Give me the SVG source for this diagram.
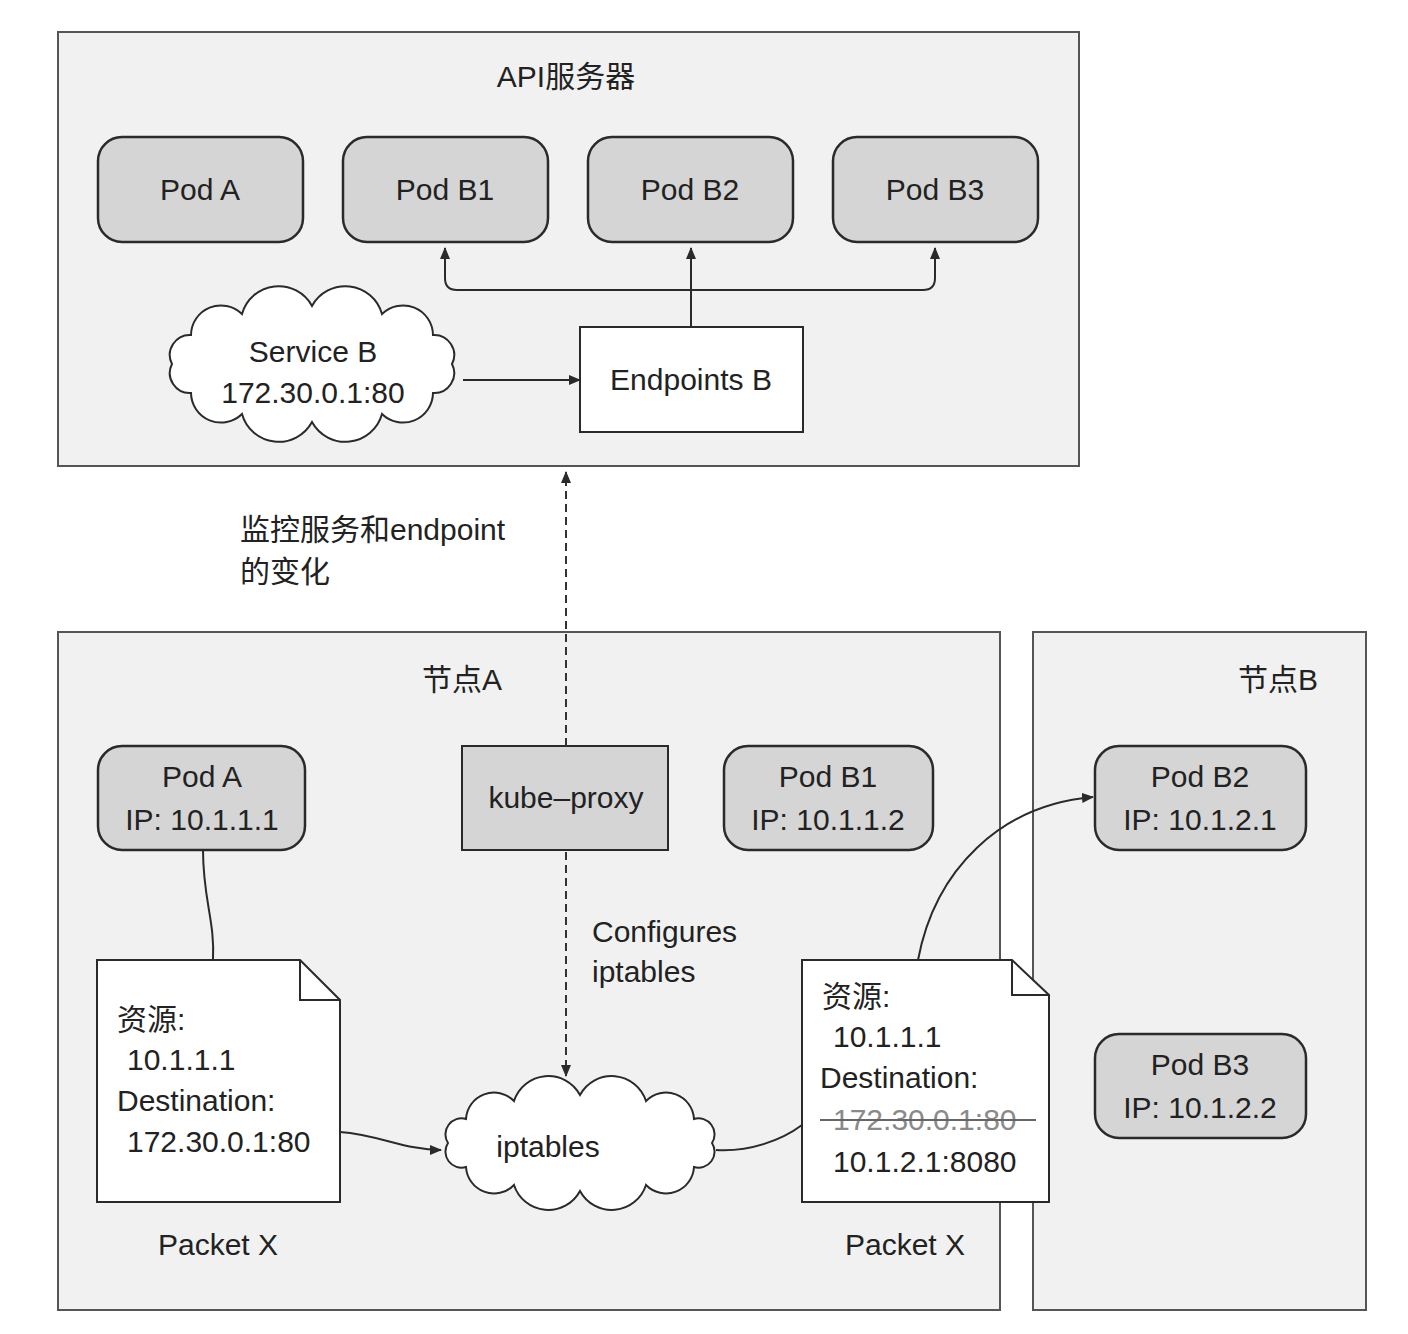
<svg xmlns="http://www.w3.org/2000/svg" width="1408" height="1334" viewBox="0 0 1408 1334">
<defs>
<style>
text{font-family:"Liberation Sans","Noto Sans CJK SC",sans-serif;font-size:30px;fill:#222}
.c{text-anchor:middle}
.box{fill:#f1f1f1;stroke:#555;stroke-width:2}
.pod{fill:#d5d5d5;stroke:#2a2a2a;stroke-width:2.5}
.white{fill:#fff;stroke:#2a2a2a;stroke-width:2}
.line{fill:none;stroke:#2a2a2a;stroke-width:2}
.dash{fill:none;stroke:#333;stroke-width:2;stroke-dasharray:8 5}
.strike{fill:#8a8a8a}
</style>
<marker id="arr" viewBox="0 0 12 10" refX="11" refY="5" markerWidth="12" markerHeight="10" markerUnits="userSpaceOnUse" orient="auto-start-reverse">
<path d="M0,0 L12,5 L0,10 Z" fill="#2a2a2a"/>
</marker>
</defs>
<rect width="1408" height="1334" fill="#fff"/>

<g id="api-server">
<rect class="box" x="58" y="32" width="1021" height="434"/>
<text class="c" x="566" y="87">API服务器</text>
</g>
<g id="api-pod-a"><rect class="pod" x="98" y="137" width="205" height="105" rx="24"/><text class="c" x="200" y="200">Pod A</text></g>
<g id="api-pod-b1"><rect class="pod" x="343" y="137" width="205" height="105" rx="24"/><text class="c" x="445" y="200">Pod B1</text></g>
<g id="api-pod-b2"><rect class="pod" x="588" y="137" width="205" height="105" rx="24"/><text class="c" x="690" y="200">Pod B2</text></g>
<g id="api-pod-b3"><rect class="pod" x="833" y="137" width="205" height="105" rx="24"/><text class="c" x="935" y="200">Pod B3</text></g>
<g id="endpoints-b"><rect class="white" x="580" y="327" width="223" height="105"/><text class="c" x="691" y="390">Endpoints B</text></g>
<g id="service-b">
<path class="white" d="M452,364 A20,20 0 0 1 433,393 A30,30 0 0 1 382,414 A38,38 0 0 1 312,422 A38,38 0 0 1 242,414 A30,30 0 0 1 191,393 A20,20 0 0 1 172,364 A20,20 0 0 1 191,335 A30,30 0 0 1 242,314 A38,38 0 0 1 312,306 A38,38 0 0 1 382,314 A30,30 0 0 1 433,335 A20,20 0 0 1 452,364 Z"/>
<text class="c" x="313" y="362">Service B</text>
<text class="c" x="313" y="403">172.30.0.1:80</text>
</g>

<g id="node-a">
<rect class="box" x="58" y="632" width="942" height="678"/>
<text class="c" x="462" y="690">节点A</text>
</g>
<g id="node-b">
<rect class="box" x="1033" y="632" width="333" height="678"/>
<text class="c" x="1278" y="690">节点B</text>
</g>
<g id="node-pod-a"><rect class="pod" x="98" y="746" width="207" height="104" rx="24"/><text class="c" x="202" y="787">Pod A</text><text class="c" x="202" y="830">IP: 10.1.1.1</text></g>
<g id="kube-proxy"><rect class="pod" x="462" y="746" width="206" height="104" style="stroke-width:2"/><text class="c" x="566" y="808">kube–proxy</text></g>
<g id="node-pod-b1"><rect class="pod" x="724" y="746" width="209" height="104" rx="24"/><text class="c" x="828" y="787">Pod B1</text><text class="c" x="828" y="830">IP: 10.1.1.2</text></g>
<g id="node-pod-b2"><rect class="pod" x="1095" y="746" width="211" height="104" rx="24"/><text class="c" x="1200" y="787">Pod B2</text><text class="c" x="1200" y="830">IP: 10.1.2.1</text></g>
<g id="node-pod-b3"><rect class="pod" x="1095" y="1034" width="211" height="104" rx="24"/><text class="c" x="1200" y="1075">Pod B3</text><text class="c" x="1200" y="1118">IP: 10.1.2.2</text></g>

<g id="packet-left">
<path class="white" d="M97,960 L300,960 L340,1000 L340,1202 L97,1202 Z"/>
<path class="line" d="M300,960 L300,1000 L340,1000"/>
<text x="117" y="1030">资源:</text>
<text x="127" y="1070">10.1.1.1</text>
<text x="117" y="1111">Destination:</text>
<text x="127" y="1152">172.30.0.1:80</text>
<text class="c" x="218" y="1255">Packet X</text>
</g>
<g id="iptables">
<path class="white" d="M712,1143 A16,16 0 0 1 694,1167 A28,28 0 0 1 646,1185 A36,36 0 0 1 580,1191 A36,36 0 0 1 514,1185 A28,28 0 0 1 466,1167 A16,16 0 0 1 448,1143 A16,16 0 0 1 466,1119 A28,28 0 0 1 514,1101 A36,36 0 0 1 580,1095 A36,36 0 0 1 646,1101 A28,28 0 0 1 694,1119 A16,16 0 0 1 712,1143 Z"/>
<text class="c" x="548" y="1157">iptables</text>
</g>
<g id="packet-right">
<path class="white" d="M802,960 L1012,960 L1049,995 L1049,1202 L802,1202 Z"/>
<path class="line" d="M1012,960 L1012,995 L1049,995"/>
<text x="822" y="1007">资源:</text>
<text x="833" y="1047">10.1.1.1</text>
<text x="820" y="1088">Destination:</text>
<text class="strike" x="833" y="1130">172.30.0.1:80</text>
<line x1="820" y1="1120" x2="1036" y2="1120" stroke="#666" stroke-width="2"/>
<text x="833" y="1172">10.1.2.1:8080</text>
<text class="c" x="905" y="1255">Packet X</text>
</g>

<g id="labels">
<text x="240" y="540">监控服务和endpoint</text>
<text x="240" y="582">的变化</text>
<text x="592" y="942">Configures</text>
<text x="592" y="982">iptables</text>
</g>

<g id="connectors">
<path class="line" d="M691,327 L691,248" marker-end="url(#arr)"/>
<path class="line" d="M445,248 L445,278 Q445,290 457,290 L923,290 Q935,290 935,278 L935,248" marker-start="url(#arr)" marker-end="url(#arr)"/>
<path class="line" d="M463,380 L580,380" marker-end="url(#arr)"/>
<path class="dash" d="M566,746 L566,472" marker-end="url(#arr)"/>
<path class="dash" d="M566,852 L566,1076" marker-end="url(#arr)"/>
<path class="line" d="M203,850 C203,900 215,920 213,960"/>
<path class="line" d="M340,1132 C380,1135 405,1150 441,1150" marker-end="url(#arr)"/>
<path class="line" d="M716,1150 C750,1152 782,1140 802,1125"/>
<path class="line" d="M918,960 C935,870 1000,805 1093,797" marker-end="url(#arr)"/>
</g>
</svg>
